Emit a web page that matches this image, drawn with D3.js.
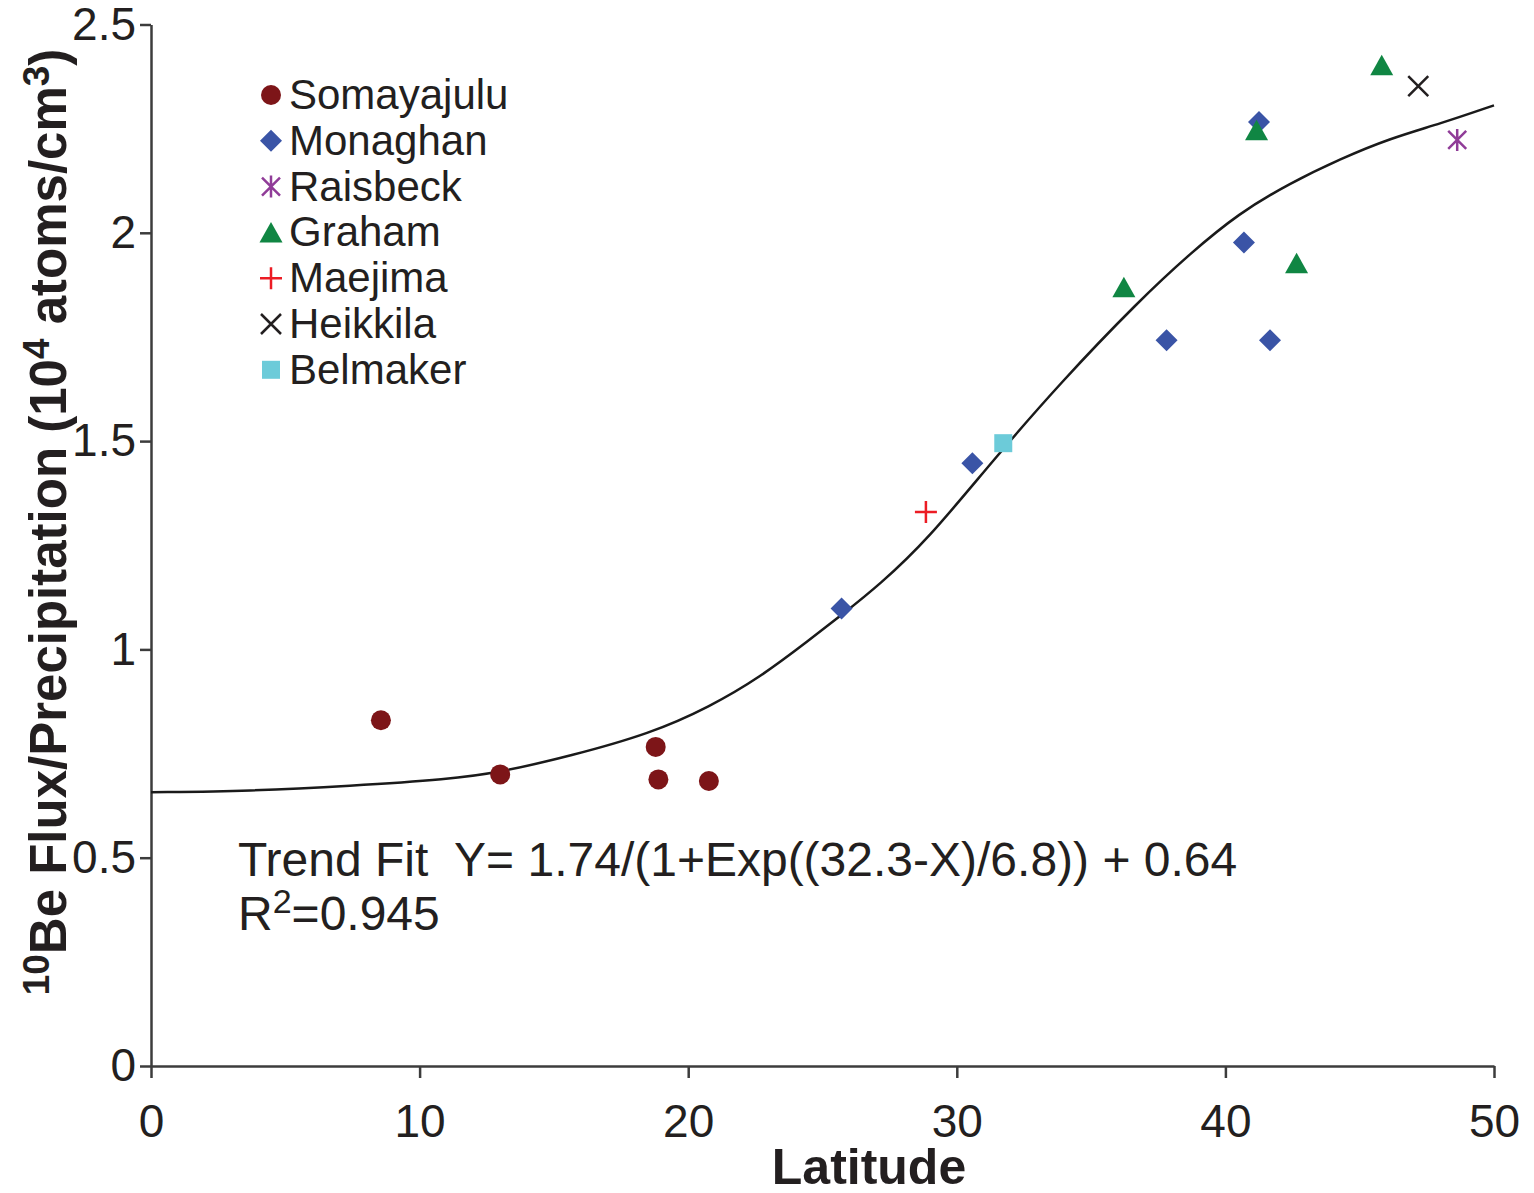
<!DOCTYPE html>
<html>
<head>
<meta charset="utf-8">
<script src="https://cdnjs.cloudflare.com/ajax/libs/d3/7.8.5/d3.min.js"></script>
<style>
    body { margin: 0; background: #fff; }
    svg text { font-family: Arial, "Liberation Sans", sans-serif; fill: #231f20; }
    .axis path, .axis line { stroke: #3c3c3c; stroke-width: 2.5; }
</style>
</head>
<body>
<svg id="chart" width="1534" height="1193"></svg>
<script>
// points: [latitude, 10Be flux/precipitation]
var somayajulu = [[8.56, 0.830], [13.0, 0.700], [18.79, 0.766], [18.89, 0.688], [20.77, 0.684]];
var monaghan = [[25.71, 1.098], [30.58, 1.447], [37.81, 1.742], [40.69, 1.977], [41.25, 2.266], [41.66, 1.742]];
var raisbeck = [[48.63, 2.223]];
var graham = [[45.82, 2.402], [41.16, 2.246], [42.65, 1.927], [36.22, 1.869]];
var maejima = [[28.85, 1.330]];
var heikkila = [[47.18, 2.352]];
var belmaker = [[31.73, 1.495]];

// trend curve
var trendCurve = [[0, 0.657], [3.7, 0.660], [7.4, 0.672], [11.1, 0.688], [13.0, 0.705], [15.6, 0.744],
    [18.6, 0.798], [20.8, 0.862], [22.7, 0.934], [24.5, 1.022], [25.8, 1.087], [27.1, 1.154],
    [28.9, 1.262], [31.35, 1.454], [33.84, 1.639], [36.8, 1.838], [38.7, 1.951], [40.5, 2.047],
    [42.4, 2.119], [44.3, 2.178], [46.1, 2.226], [48.0, 2.262], [50, 2.306]];

var seriesNames = ["Somayajulu", "Monaghan", "Raisbeck", "Graham", "Maejima", "Heikkila", "Belmaker"];
var seriesData = [somayajulu, monaghan, raisbeck, graham, maejima, heikkila, belmaker];
var seriesColors = ["#7d1518", "#3a54a6", "#903c98", "#108643", "#ec1c24", "#231f20", "#6ccbd9"];
var seriesShapes = ["circle", "diamond", "star", "triangle", "plus", "cross", "square"];

var xTicks = [0, 10, 20, 30, 40, 50];
var yTicks = [0, 0.5, 1, 1.5, 2, 2.5];

var svg = d3.select("#chart");

var x = d3.scaleLinear().domain([0, 50]).range([151, 1494]);
var y = d3.scaleLinear().domain([0, 2.5]).range([1066, 24.5]);

// axes
var xAxis = d3.axisBottom(x).tickValues(xTicks).tickSize(12).tickSizeOuter(0).tickPadding(26);
var yAxis = d3.axisLeft(y).tickValues(yTicks).tickSize(11).tickSizeOuter(0).tickPadding(4)
    .tickFormat(function(d) { return d; });

svg.append("g").attr("class", "axis")
    .attr("transform", "translate(0,1066)")
    .call(xAxis);
svg.append("g").attr("class", "axis")
    .attr("transform", "translate(151,0)")
    .call(yAxis);

svg.selectAll(".axis text")
    .style("font-size", "46px")
    .style("fill", "#231f20");

// axis titles
svg.append("text")
    .attr("x", 869)
    .attr("y", 1184)
    .attr("text-anchor", "middle")
    .style("font-size", "50px")
    .style("font-weight", "bold")
    .text("Latitude");

var yTitle = svg.append("text")
    .attr("transform", "translate(66,522) rotate(-90)")
    .attr("text-anchor", "middle")
    .style("font-size", "51px")
    .style("font-weight", "bold");
yTitle.append("tspan").attr("dy", -17).style("font-size", "37px").text("10");
yTitle.append("tspan").attr("dy", 17).text("Be Flux/Precipitation (10");
yTitle.append("tspan").attr("dy", -17).style("font-size", "37px").text("4");
yTitle.append("tspan").attr("dy", 17).text(" atoms/cm");
yTitle.append("tspan").attr("dy", -17).style("font-size", "37px").text("3");
yTitle.append("tspan").attr("dy", 17).text(")");

// trend line (smoothed through the traced points)
var line = d3.line()
    .curve(d3.curveBasis)
    .x(function(d) { return x(d[0]); })
    .y(function(d) { return y(d[1]); });

svg.append("path")
    .datum(trendCurve)
    .attr("d", line)
    .attr("fill", "none")
    .attr("stroke", "#1a1a1a")
    .attr("stroke-width", 2.5);

// marker path for each shape, centred on 0,0
function markerPath(shape) {
    var p = d3.path();
    if (shape == "circle") {
        p.arc(0, 0, 10, 0, 2 * Math.PI);
    } else if (shape == "diamond") {
        p.moveTo(0, -11); p.lineTo(11, 0); p.lineTo(0, 11); p.lineTo(-11, 0); p.closePath();
    } else if (shape == "triangle") {
        p.moveTo(0, -10.5); p.lineTo(11.5, 10); p.lineTo(-11.5, 10); p.closePath();
    } else if (shape == "square") {
        p.rect(-9, -9, 18, 18);
    } else if (shape == "plus") {
        p.moveTo(-11, 0); p.lineTo(11, 0); p.moveTo(0, -11); p.lineTo(0, 11);
    } else if (shape == "cross") {
        p.moveTo(-10, -10); p.lineTo(10, 10); p.moveTo(10, -10); p.lineTo(-10, 10);
    } else if (shape == "star") {
        p.moveTo(-9, -9); p.lineTo(9, 9); p.moveTo(9, -9); p.lineTo(-9, 9);
        p.moveTo(0, -11); p.lineTo(0, 11);
    }
    return p.toString();
}

function isFilled(shape) {
    return shape == "circle" || shape == "diamond" || shape == "triangle" || shape == "square";
}

function drawMarker(g, shape, color, cx, cy) {
    g.append("path")
        .attr("d", markerPath(shape))
        .attr("transform", "translate(" + cx + "," + cy + ")")
        .attr("fill", isFilled(shape) ? color : "none")
        .attr("stroke", isFilled(shape) ? "none" : color)
        .attr("stroke-width", 2.5);
}

// data points (drawn in legend order)
seriesData.forEach(function(pts, i) {
    var g = svg.append("g").attr("class", "series-" + seriesNames[i]);
    pts.forEach(function(d) {
        drawMarker(g, seriesShapes[i], seriesColors[i], x(d[0]), y(d[1]));
    });
});

// legend
var legend = svg.append("g").attr("class", "legend");
seriesNames.forEach(function(name, i) {
    var cy = 95 + i * 45.8;
    drawMarker(legend, seriesShapes[i], seriesColors[i], 271, cy);
    legend.append("text")
        .attr("x", 289)
        .attr("y", cy + 14)
        .style("font-size", "42px")
        .text(name);
});

// fit equation
svg.append("text")
    .attr("x", 238)
    .attr("y", 876)
    .style("font-size", "48px")
    .style("white-space", "pre")
    .text("Trend Fit  Y= 1.74/(1+Exp((32.3-X)/6.8)) + 0.64");

var r2 = svg.append("text")
    .attr("x", 238)
    .attr("y", 930)
    .style("font-size", "48px");
r2.append("tspan").text("R");
r2.append("tspan").attr("dy", -17).style("font-size", "34px").text("2");
r2.append("tspan").attr("dy", 17).text("=0.945");
</script>
</body>
</html>
